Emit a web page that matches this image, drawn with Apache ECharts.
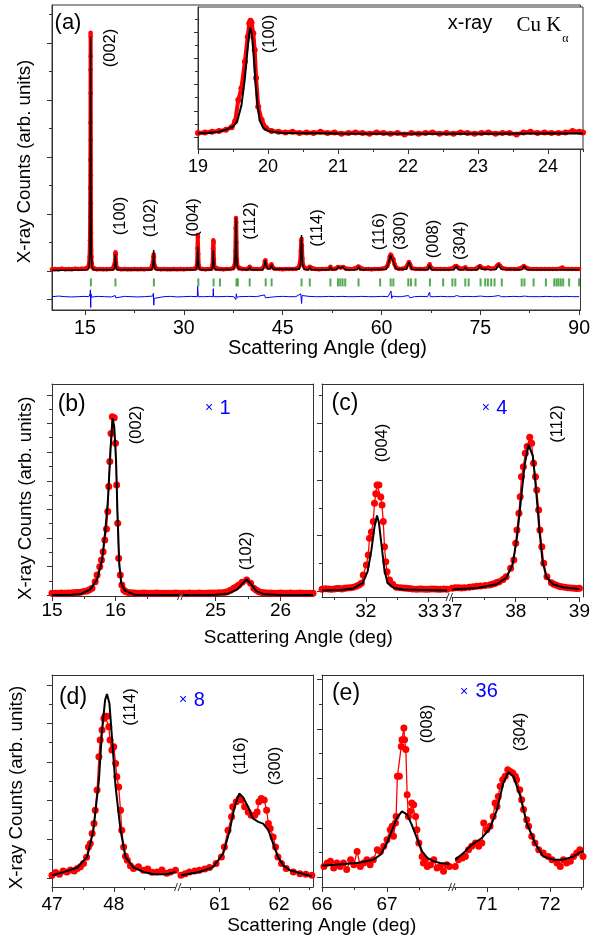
<!DOCTYPE html>
<html><head><meta charset="utf-8">
<script src="https://cdn.jsdelivr.net/npm/echarts@6/dist/echarts.min.js"></script>
<style>html,body{margin:0;padding:0;background:#fff}#c{width:593px;height:941px}</style>
</head><body><div id="c"></div>
<script>
// ---------------- DATA ----------------
// (a) main pattern: observed (red), calculated (black), difference (blue), Bragg positions (green)
const mainObs = [[10.0,0.03],[10.5,0.035],[11.0,0.03],[11.5,0.04],[12.0,0.03],[12.5,0.035],[13.0,0.03],[13.5,0.04],[14.0,0.035],[14.5,0.04],[15.0,0.04],[15.3,0.05],[15.5,0.07],[15.62,0.12],[15.7,0.25],[15.76,0.54],[15.79,0.95],[15.81,1.46],[15.83,1.95],[15.84,2.6],[15.85,3.53],[15.86,4.18],[15.87,4.12],[15.875,3.77],[15.88,3.12],[15.89,2.3],[15.9,1.68],[15.91,1.19],[15.93,0.67],[15.95,0.37],[15.98,0.25],[16.02,0.14],[16.1,0.07],[16.3,0.04],[16.8,0.03],[17.3,0.035],[17.8,0.03],[18.3,0.03],[18.8,0.035],[19.2,0.04],[19.45,0.06],[19.55,0.15],[19.6,0.28],[19.64,0.33],[19.68,0.3],[19.72,0.15],[19.8,0.06],[20.0,0.04],[20.5,0.03],[21.0,0.035],[21.5,0.03],[22.0,0.03],[22.5,0.035],[23.0,0.03],[23.5,0.035],[24.0,0.03],[24.5,0.035],[25.0,0.04],[25.25,0.07],[25.35,0.17],[25.4,0.26],[25.44,0.29],[25.48,0.24],[25.55,0.1],[25.7,0.05],[26.0,0.035],[26.5,0.03],[27.0,0.035],[27.5,0.03],[28.0,0.03],[28.5,0.035],[29.0,0.03],[29.5,0.035],[30.0,0.03],[30.5,0.035],[31.0,0.035],[31.5,0.04],[31.9,0.05],[32.02,0.12],[32.08,0.4],[32.12,0.63],[32.16,0.6],[32.2,0.3],[32.26,0.1],[32.4,0.05],[32.8,0.035],[33.3,0.03],[33.8,0.035],[34.2,0.04],[34.38,0.12],[34.44,0.4],[34.48,0.54],[34.52,0.5],[34.57,0.2],[34.65,0.07],[34.9,0.04],[35.5,0.035],[36.0,0.03],[36.5,0.035],[37.0,0.035],[37.5,0.05],[37.75,0.12],[37.83,0.35],[37.88,0.75],[37.92,0.93],[37.96,0.85],[38.0,0.5],[38.06,0.2],[38.15,0.08],[38.4,0.045],[38.9,0.035],[39.5,0.035],[39.9,0.05],[40.0,0.075],[40.1,0.05],[40.6,0.035],[41.2,0.035],[41.8,0.04],[42.15,0.08],[42.3,0.17],[42.4,0.19],[42.5,0.12],[42.7,0.06],[43.1,0.06],[43.3,0.12],[43.45,0.07],[43.8,0.04],[44.5,0.035],[45.0,0.03],[45.5,0.035],[46.0,0.035],[46.5,0.035],[47.0,0.04],[47.4,0.06],[47.65,0.15],[47.75,0.35],[47.82,0.54],[47.87,0.56],[47.93,0.45],[48.0,0.22],[48.1,0.1],[48.4,0.05],[48.8,0.04],[49.12,0.075],[49.4,0.04],[50.0,0.035],[50.5,0.03],[51.0,0.035],[51.5,0.035],[52.0,0.04],[52.25,0.075],[52.5,0.04],[53.0,0.04],[53.4,0.07],[53.8,0.06],[54.2,0.07],[54.6,0.045],[55.2,0.035],[55.8,0.04],[56.5,0.08],[56.8,0.045],[57.3,0.035],[58.0,0.035],[58.5,0.03],[59.0,0.035],[59.5,0.035],[60.0,0.04],[60.5,0.05],[60.9,0.09],[61.1,0.16],[61.25,0.25],[61.4,0.29],[61.55,0.26],[61.7,0.22],[61.85,0.2],[62.0,0.12],[62.2,0.06],[62.6,0.04],[63.2,0.04],[63.7,0.06],[64.0,0.12],[64.17,0.16],[64.35,0.12],[64.6,0.05],[65.2,0.035],[65.8,0.035],[66.5,0.035],[67.0,0.05],[67.2,0.09],[67.32,0.12],[67.45,0.07],[67.8,0.04],[68.4,0.035],[69.0,0.035],[69.6,0.035],[70.2,0.035],[70.8,0.05],[71.1,0.08],[71.36,0.09],[71.6,0.06],[72.0,0.04],[72.5,0.05],[72.72,0.065],[73.0,0.04],[73.6,0.035],[74.3,0.04],[74.7,0.07],[74.95,0.09],[75.2,0.06],[75.7,0.045],[76.2,0.06],[76.6,0.045],[77.2,0.05],[77.6,0.1],[77.8,0.12],[78.0,0.09],[78.4,0.05],[79.0,0.035],[79.6,0.035],[80.2,0.035],[80.8,0.04],[81.3,0.06],[81.6,0.09],[81.9,0.06],[82.4,0.04],[83.0,0.035],[83.6,0.035],[84.2,0.035],[84.8,0.035],[85.4,0.035],[86.0,0.035],[86.6,0.035],[87.2,0.045],[87.45,0.06],[87.7,0.04],[88.3,0.035],[88.9,0.035],[89.5,0.035],[90.0,0.035]];
const mainCalc = [[10,0.01],[15.4,0.02],[15.65,0.08],[15.76,0.4],[15.81,1.5],[15.84,3.0],[15.86,4.1],[15.88,3.2],[15.91,1.4],[15.95,0.35],[16.05,0.08],[16.3,0.02],[19.3,0.02],[19.5,0.06],[19.58,0.18],[19.63,0.3],[19.68,0.18],[19.76,0.06],[19.95,0.02],[25.1,0.02],[25.3,0.08],[25.38,0.22],[25.43,0.37],[25.48,0.2],[25.57,0.07],[25.8,0.02],[31.8,0.02],[32.0,0.08],[32.08,0.25],[32.13,0.43],[32.18,0.25],[32.26,0.07],[32.5,0.02],[34.2,0.02],[34.38,0.08],[34.44,0.22],[34.48,0.37],[34.53,0.2],[34.62,0.06],[34.9,0.02],[37.5,0.03],[37.75,0.1],[37.84,0.35],[37.9,0.8],[37.93,0.93],[37.97,0.7],[38.03,0.25],[38.12,0.08],[38.4,0.03],[39.8,0.02],[40.0,0.07],[40.2,0.02],[42.0,0.02],[42.25,0.1],[42.38,0.19],[42.5,0.1],[42.75,0.04],[43.1,0.04],[43.33,0.11],[43.55,0.03],[47.5,0.03],[47.7,0.12],[47.8,0.4],[47.87,0.63],[47.93,0.4],[48.02,0.12],[48.3,0.03],[48.9,0.02],[49.12,0.07],[49.35,0.02],[52.0,0.02],[52.25,0.07],[52.5,0.02],[53.2,0.03],[53.45,0.07],[53.8,0.05],[54.15,0.07],[54.5,0.02],[56.3,0.02],[56.52,0.08],[56.75,0.02],[60.7,0.03],[61.0,0.1],[61.2,0.2],[61.38,0.28],[61.55,0.22],[61.75,0.18],[61.95,0.1],[62.3,0.03],[63.8,0.03],[64.05,0.12],[64.17,0.16],[64.35,0.1],[64.6,0.03],[67.05,0.02],[67.3,0.11],[67.55,0.02],[71.0,0.02],[71.33,0.09],[71.7,0.02],[72.45,0.02],[72.72,0.06],[73.0,0.02],[74.6,0.02],[74.92,0.09],[75.25,0.03],[75.9,0.03],[76.15,0.05],[76.5,0.02],[77.4,0.03],[77.78,0.12],[78.15,0.03],[81.3,0.02],[81.67,0.09],[82.05,0.02],[87.2,0.02],[87.47,0.05],[87.75,0.02],[90.0,0.02]];
const mainDiff = [[10,-0.45],[11,-0.44],[12,-0.45],[13,-0.455],[14,-0.45],[15,-0.445],[15.6,-0.45],[15.78,-0.4],[15.83,-0.33],[15.86,-0.6],[15.88,-0.64],[15.92,-0.4],[16.0,-0.46],[16.4,-0.45],[17,-0.445],[18,-0.45],[19,-0.455],[19.6,-0.43],[19.68,-0.47],[19.8,-0.45],[21,-0.445],[22,-0.45],[23,-0.455],[24,-0.45],[25.3,-0.44],[25.38,-0.39],[25.45,-0.6],[25.5,-0.48],[25.7,-0.45],[27,-0.45],[28,-0.445],[29,-0.455],[30,-0.45],[31,-0.445],[32.05,-0.45],[32.1,-0.27],[32.15,-0.3],[32.2,-0.45],[33,-0.45],[34,-0.445],[34.43,-0.45],[34.48,-0.31],[34.53,-0.45],[35.5,-0.45],[36.5,-0.445],[37.6,-0.45],[37.85,-0.42],[37.9,-0.5],[37.97,-0.4],[38.05,-0.46],[38.3,-0.43],[38.5,-0.45],[40,-0.445],[41,-0.45],[42.25,-0.42],[42.4,-0.47],[42.6,-0.45],[44,-0.45],[45,-0.445],[46,-0.45],[47,-0.45],[47.75,-0.4],[47.83,-0.38],[47.88,-0.57],[47.95,-0.43],[48.2,-0.45],[49,-0.445],[50,-0.45],[51,-0.45],[52,-0.445],[53,-0.45],[54,-0.445],[55,-0.45],[56,-0.45],[57,-0.445],[58,-0.45],[59,-0.45],[60,-0.445],[61,-0.45],[61.3,-0.44],[61.45,-0.35],[61.55,-0.48],[61.7,-0.44],[62.2,-0.45],[63,-0.45],[64.1,-0.43],[64.3,-0.47],[65,-0.45],[66,-0.445],[67,-0.45],[67.3,-0.37],[67.4,-0.45],[68,-0.45],[69,-0.445],[70,-0.45],[71,-0.45],[71.4,-0.43],[72,-0.45],[73,-0.445],[74,-0.45],[75,-0.44],[76,-0.45],[77,-0.445],[77.8,-0.43],[78.2,-0.45],[79,-0.45],[80,-0.445],[81,-0.45],[81.7,-0.44],[82.5,-0.45],[84,-0.45],[85,-0.445],[86,-0.45],[87,-0.45],[88,-0.445],[89,-0.45],[90,-0.45]];
const braggPos = [15.90,19.63,25.46,32.21,34.52,35.49,38.0,38.2,40.0,42.43,43.33,47.87,49.12,52.25,53.40,53.75,54.1,54.5,56.52,59.8,61.40,61.8,64.07,64.47,65.17,67.35,69.36,70.76,71.21,72.72,73.23,75.04,75.74,76.15,76.65,77.16,78.26,81.28,81.69,83.09,84.95,86.22,86.57,86.87,87.22,87.58,88.48,89.99];
const braggRow = -0.2;
const mainXTicks = [15,30,45,60,75,90];

// (a) inset: (100) reflection
const insetObs = [[19.0,0.3],[19.1,0.35],[19.2,0.4],[19.3,0.45],[19.4,0.55],[19.48,0.75],[19.53,1.2],[19.576,2.82],[19.62,3.72],[19.67,5.75],[19.71,7.66],[19.733,8.68],[19.75,8.88],[19.765,8.72],[19.79,7.92],[19.81,6.64],[19.83,4.5],[19.86,2.31],[19.91,1.3],[19.97,0.69],[20.05,0.45],[20.15,0.4],[20.25,0.35],[20.35,0.4],[20.45,0.3],[20.55,0.35],[20.65,0.3],[20.75,0.4],[20.85,0.3],[20.95,0.35],[21.05,0.25],[21.15,0.3],[21.25,0.35],[21.35,0.3],[21.45,0.25],[21.55,0.35],[21.65,0.3],[21.75,0.25],[21.85,0.3],[21.95,0.2],[22.05,0.3],[22.15,0.25],[22.25,0.3],[22.35,0.35],[22.45,0.25],[22.55,0.3],[22.65,0.25],[22.75,0.35],[22.85,0.3],[22.95,0.25],[23.05,0.3],[23.15,0.35],[23.25,0.25],[23.35,0.3],[23.45,0.3],[23.55,0.2],[23.65,0.35],[23.75,0.4],[23.85,0.3],[23.95,0.35],[24.05,0.3],[24.15,0.3],[24.25,0.35],[24.35,0.45],[24.45,0.4],[24.5,0.35]];
const insetCalc = [[19.0,0.28],[19.15,0.3],[19.3,0.4],[19.42,0.6],[19.5,0.8],[19.56,1.2],[19.62,2.4],[19.67,4.5],[19.71,6.8],[19.735,8.0],[19.745,8.34],[19.765,8.0],[19.79,6.6],[19.82,4.3],[19.85,2.4],[19.88,1.3],[19.93,0.7],[20.0,0.45],[20.2,0.3],[21,0.27],[22,0.25],[23,0.25],[24,0.27],[24.5,0.27]];

// (b) x1 : (002) and (102)
const bObsL = [[15.0,1.3],[15.05,1.3],[15.1,1.3],[15.15,1.4],[15.2,1.3],[15.25,1.4],[15.3,1.4],[15.34,1.5],[15.38,1.6],[15.42,1.7],[15.45,1.8],[15.5,2.1],[15.55,2.4],[15.59,3.0],[15.63,3.6],[15.68,6.7],[15.71,9.9],[15.752,13.8],[15.779,17.0],[15.805,20.9],[15.831,26.4],[15.858,31.6],[15.878,39.8],[15.894,51.6],[15.91,63.4],[15.93,76.7],[15.95,84.6],[15.98,84.1],[16.0,72.0],[16.018,52.4],[16.035,34.3],[16.05,17.8],[16.075,9.9],[16.1,5.2],[16.13,2.8],[16.16,2.1],[16.2,1.7],[16.25,1.5],[16.3,1.4],[16.35,1.3],[16.4,1.3],[16.45,1.4],[16.5,1.3],[16.55,1.3],[16.6,1.3],[16.65,1.4],[16.7,1.3],[16.75,1.3],[16.8,1.3],[16.85,1.3],[16.9,1.3],[16.95,1.4],[17.0,1.3]];
const bCalcL = [[15.0,0.5],[15.3,0.6],[15.45,0.9],[15.6,3.0],[15.71,7.8],[15.79,17.0],[15.84,31.0],[15.88,45.0],[15.92,68.0],[15.955,83.8],[15.98,80.0],[16.01,63.0],[16.03,40.0],[16.06,15.0],[16.09,6.0],[16.15,2.5],[16.3,0.6],[17.0,0.5]];
const bObsR = [[24.5,1.3],[24.55,1.3],[24.6,1.4],[24.65,1.3],[24.7,1.3],[24.75,1.4],[24.8,1.3],[24.85,1.3],[24.9,1.4],[24.95,1.4],[25.0,1.4],[25.05,1.5],[25.1,1.5],[25.14,1.7],[25.18,2.0],[25.23,2.7],[25.28,3.6],[25.32,4.4],[25.36,5.2],[25.41,6.5],[25.48,7.5],[25.54,6.0],[25.59,3.6],[25.63,2.7],[25.67,2.0],[25.71,1.7],[25.75,1.5],[25.8,1.4],[25.85,1.4],[25.9,1.3],[25.95,1.3],[26.0,1.4],[26.05,1.3],[26.1,1.3],[26.15,1.4],[26.2,1.3],[26.25,1.3],[26.3,1.4],[26.35,1.3],[26.4,1.3],[26.45,1.3],[26.5,1.3]];
const bCalcR = [[24.5,0.5],[25.0,0.6],[25.2,1.2],[25.33,3.0],[25.42,6.0],[25.48,7.8],[25.55,5.5],[25.63,2.3],[25.75,0.8],[26.0,0.5],[26.5,0.5]];

// (c) x4 : (004) and (112)
const cObsL = [[31.3,3.6],[31.35,3.9],[31.4,3.8],[31.45,3.6],[31.5,3.7],[31.54,4.0],[31.58,4.0],[31.62,3.8],[31.66,4.1],[31.7,4.2],[31.75,4.4],[31.8,4.6],[31.85,5.0],[31.89,5.6],[31.93,6.4],[31.96,10.3],[32.01,15.0],[32.04,19.7],[32.06,27.6],[32.09,30.5],[32.12,35.4],[32.14,44.0],[32.16,48.5],[32.18,52.6],[32.21,52.6],[32.24,47.0],[32.26,43.2],[32.28,35.4],[32.3,23.6],[32.32,16.6],[32.34,11.9],[32.38,8.0],[32.43,6.0],[32.49,4.6],[32.55,4.4],[32.6,4.2],[32.65,4.1],[32.7,4.0],[32.75,3.8],[32.81,3.6],[32.86,3.7],[32.9,3.7],[32.95,3.6],[33.0,3.6],[33.05,3.7],[33.1,3.7],[33.15,3.6],[33.2,3.6],[33.25,3.7],[33.3,3.6]];
const cCalcL = [[31.3,3.0],[31.6,3.3],[31.8,4.0],[31.95,6.5],[32.03,12.0],[32.09,22.0],[32.14,33.0],[32.18,38.3],[32.21,35.0],[32.25,25.0],[32.3,12.5],[32.35,6.5],[32.45,4.2],[32.6,3.5],[33.3,3.1]];
const cObsR = [[37.0,4.1],[37.05,4.3],[37.1,4.3],[37.15,4.2],[37.2,4.4],[37.27,4.6],[37.33,4.8],[37.39,5.0],[37.45,5.2],[37.52,5.4],[37.59,5.6],[37.63,6.0],[37.67,6.3],[37.7,6.8],[37.74,7.2],[37.8,8.2],[37.85,9.5],[37.92,13.5],[37.97,17.4],[38.0,25.2],[38.02,31.5],[38.05,39.3],[38.07,47.1],[38.09,56.5],[38.12,61.2],[38.15,67.5],[38.18,70.6],[38.22,75.0],[38.25,72.2],[38.28,62.8],[38.31,56.5],[38.33,50.2],[38.36,40.8],[38.38,31.5],[38.41,23.6],[38.44,15.8],[38.49,9.5],[38.56,6.7],[38.6,6.0],[38.64,5.5],[38.68,5.1],[38.72,4.8],[38.77,4.6],[38.82,4.4],[38.87,4.2],[38.92,4.1],[38.96,4.0],[39.0,4.1]];
const cCalcR = [[37.0,3.5],[37.4,4.2],[37.7,6.0],[37.85,9.0],[37.95,15.0],[38.02,28.0],[38.08,45.0],[38.14,62.0],[38.2,71.5],[38.23,72.0],[38.27,66.0],[38.32,50.0],[38.37,32.0],[38.42,17.0],[38.48,9.5],[38.58,6.0],[38.75,4.5],[39.0,3.8]];

// (d) x8 : (114), (116)/(300)
const dObsL = [[47.0,5.5],[47.06,6.8],[47.12,6.0],[47.18,7.5],[47.24,7.1],[47.3,8.0],[47.36,7.5],[47.41,8.7],[47.46,9.5],[47.51,11.1],[47.56,14.0],[47.59,18.9],[47.62,20.5],[47.65,25.2],[47.68,30.0],[47.7,36.2],[47.73,45.7],[47.76,61.4],[47.78,69.3],[47.81,74.0],[47.84,79.5],[47.86,80.6],[47.89,80.6],[47.92,75.6],[47.94,69.3],[47.97,64.6],[48.0,66.1],[48.03,58.3],[48.05,52.0],[48.08,47.2],[48.11,36.2],[48.13,26.8],[48.16,18.9],[48.19,14.5],[48.22,12.6],[48.27,10.0],[48.32,8.7],[48.4,9.5],[48.48,7.9],[48.55,8.5],[48.62,7.0],[48.7,7.1],[48.78,8.0],[48.86,6.5],[48.92,7.1],[49.0,7.9]];
const dCalcL = [[47.0,5.5],[47.24,7.5],[47.41,9.2],[47.57,14.2],[47.67,26.8],[47.76,50.4],[47.81,74.0],[47.86,88.2],[47.89,91.0],[47.93,86.6],[47.97,71.0],[48.03,47.2],[48.11,26.8],[48.19,14.2],[48.32,9.2],[48.48,7.1],[48.65,6.0],[48.86,6.0],[49.0,7.1]];
const dObsR = [[60.35,5.5],[60.42,6.3],[60.49,7.1],[60.58,7.5],[60.66,7.9],[60.75,8.5],[60.83,9.2],[60.94,11.1],[61.03,14.2],[61.08,18.9],[61.14,26.8],[61.2,33.1],[61.22,37.8],[61.28,40.2],[61.33,41.8],[61.37,41.0],[61.42,37.8],[61.48,35.4],[61.53,33.9],[61.59,33.9],[61.63,35.4],[61.66,40.2],[61.7,41.8],[61.75,41.0],[61.79,36.2],[61.82,29.9],[61.85,27.6],[61.9,23.6],[61.94,18.9],[61.98,14.2],[62.04,11.1],[62.12,8.7],[62.24,7.1],[62.35,6.3],[62.45,6.0],[62.55,5.5]];
const dCalcR = [[60.35,5.5],[60.66,7.1],[60.89,9.4],[61.06,15.8],[61.17,26.8],[61.25,37.8],[61.33,44.1],[61.39,42.5],[61.48,37.8],[61.56,32.3],[61.65,30.7],[61.73,29.9],[61.82,26.8],[61.9,20.5],[61.98,14.2],[62.07,10.2],[62.18,7.9],[62.35,6.6],[62.55,5.0]];

// (e) x36 : (008) and (304)
const eObsL = [[66.03,9.7],[66.08,11.3],[66.13,12.1],[66.18,9.0],[66.23,11.3],[66.28,9.7],[66.33,11.3],[66.38,8.2],[66.44,12.9],[66.49,10.5],[66.54,16.8],[66.59,9.7],[66.64,11.3],[66.69,12.9],[66.74,10.5],[66.79,12.9],[66.85,17.6],[66.9,16.8],[66.95,19.2],[67.0,22.3],[67.05,27.0],[67.08,28.6],[67.1,23.9],[67.13,30.2],[67.14,33.3],[67.16,52.2],[67.19,52.2],[67.22,66.3],[67.23,69.5],[67.26,75.0],[67.27,69.5],[67.29,64.8],[67.31,43.5],[67.33,33.3],[67.36,35.7],[67.38,39.6],[67.41,38.8],[67.44,33.3],[67.46,27.0],[67.49,20.8],[67.54,14.4],[67.56,11.3],[67.59,12.9],[67.62,9.7],[67.67,10.5],[67.72,12.9],[67.77,9.0],[67.82,9.7],[67.87,7.4],[67.92,10.5],[67.96,9.7]];
const eCalcL = [[66.0,10.0],[66.54,11.3],[66.79,12.9],[66.9,15.2],[67.0,20.8],[67.08,27.0],[67.15,32.5],[67.23,35.7],[67.26,36.0],[67.31,34.1],[67.38,29.4],[67.46,23.1],[67.54,16.8],[67.62,13.7],[67.72,12.1],[67.82,11.3],[67.96,10.8]];
const eObsR = [[70.5,9.7],[70.55,12.9],[70.61,13.7],[70.66,14.4],[70.71,17.6],[70.76,19.2],[70.82,20.8],[70.87,19.2],[70.92,20.8],[70.95,30.2],[71.0,27.0],[71.05,28.6],[71.1,33.3],[71.13,39.6],[71.16,38.0],[71.18,42.7],[71.21,47.5],[71.25,50.6],[71.29,52.2],[71.33,55.3],[71.37,54.5],[71.41,53.8],[71.45,52.2],[71.47,50.6],[71.52,45.9],[71.55,41.2],[71.58,36.5],[71.63,31.7],[71.66,28.6],[71.71,23.9],[71.76,20.8],[71.82,17.6],[71.89,16.0],[71.97,14.4],[72.03,12.9],[72.11,11.3],[72.16,9.7],[72.21,12.9],[72.26,11.3],[72.32,12.1],[72.37,14.4],[72.42,16.0],[72.47,17.6],[72.52,14.4]];
const eCalcR = [[70.5,12.9],[70.63,16.0],[70.76,19.9],[70.92,23.1],[71.05,27.8],[71.16,36.5],[71.26,49.1],[71.34,54.1],[71.42,52.2],[71.53,42.7],[71.63,30.2],[71.76,20.8],[71.89,14.4],[72.05,12.9],[72.21,12.9],[72.37,14.4],[72.47,16.3],[72.52,16.8]];

// ---------------- CHART ----------------
const AX = '#333';
const FONT = "'Liberation Sans', Arial, Helvetica, sans-serif";
const SERIF = "'Liberation Serif', 'Times New Roman', serif";
const RED = '#ff0000', BLACK = '#000000', BLUE = '#0000ff', GREEN = '#2a962a';
const grid = [], xAxis = [], yAxis = [], series = [], graphic = [];

function addGrid(left, top, width, height, extra) {
  grid.push(Object.assign({left, top, width, height}, extra || {}));
  return grid.length - 1;
}
function axisPair(list, dim, gi, min, max, majors, minors, o) {
  o = o || {};
  const pos = o.position || (dim === 'x' ? 'bottom' : 'left');
  const base = {type: 'value', gridIndex: gi, min, max, position: pos, splitLine: {show: false}};
  list.push(Object.assign({}, base, {
    axisLine: {show: o.line !== false, onZero: false, lineStyle: {color: AX, width: 1}},
    axisTick: majors.length ? {show: true, customValues: majors, length: o.tickLen || 5, lineStyle: {color: AX, width: 1}} : {show: false},
    axisLabel: o.labels ? {show: true, customValues: majors, fontSize: o.fs || 19, margin: o.margin || 8, color: '#000', fontFamily: FONT, showMinLabel: true, showMaxLabel: true} : {show: false}
  }));
  const idx = list.length - 1;
  if (minors && minors.length) list.push(Object.assign({}, base, {
    axisLine: {show: false, onZero: false},
    axisTick: {show: true, customValues: minors, length: o.minorLen || 3, lineStyle: {color: AX, width: 1}},
    axisLabel: {show: false}
  }));
  return idx;
}
function frame(left, top, width, height) {
  const g = addGrid(left, top, width, height);
  axisPair(xAxis, 'x', g, 0, 1, [], null, {position: 'top'});
  axisPair(yAxis, 'y', g, 0, 1, [], null, {position: 'right'});
}
function obs(xi, yi, data, size, lw) {
  series.push({type: 'line', xAxisIndex: xi, yAxisIndex: yi, data, symbol: 'circle', symbolSize: size, showSymbol: true,
    lineStyle: {color: RED, width: lw}, itemStyle: {color: RED, borderWidth: 0}, silent: true, z: 2});
}
function calc(xi, yi, data, lw, color) {
  series.push({type: 'line', xAxisIndex: xi, yAxisIndex: yi, data, symbol: 'none', showSymbol: false,
    lineStyle: {color: color || BLACK, width: lw}, silent: true, z: 3});
}
function txt(x, y, text, size, o) {
  o = o || {};
  graphic.push({type: 'text', x, y, rotation: o.rot || 0, z: 100, silent: true,
    style: {text, fontSize: size, fontFamily: o.family || FONT, fill: o.color || '#000',
      align: 'center', verticalAlign: 'middle', textAlign: 'center', textVerticalAlign: 'middle'}});
}
function brk(x, yb) {
  [0, 3.5].forEach(d => graphic.push({type: 'line', z: 100, silent: true,
    shape: {x1: x + d, y1: yb + 4, x2: x + d + 3, y2: yb - 4}, style: {stroke: AX, lineWidth: 1}}));
}
const ROT = Math.PI / 2;

// ---- (a) main
const gA = addGrid(52, 5, 531, 305, {show: true, borderColor: AX, borderWidth: 1});
const xA = axisPair(xAxis, 'x', gA, 10, 90.2, mainXTicks, [22.5, 37.5, 52.5, 67.5, 82.5], {labels: true, fs: 19.5, margin: 9});
const yA = axisPair(yAxis, 'y', gA, -0.684, 4.667, [-0.5, 0, 1, 2, 3, 4], [0.5, 1.5, 2.5, 3.5, 4.5], {});
obs(xA, yA, mainObs, 4.5, 4);
calc(xA, yA, mainCalc, 1.5);
calc(xA, yA, mainDiff, 1, BLUE);
series.push({type: 'scatter', xAxisIndex: xA, yAxisIndex: yA, symbol: 'rect', symbolSize: [2, 8],
  itemStyle: {color: GREEN}, silent: true, z: 2, data: braggPos.map(p => [p, braggRow])});

// ---- (a) inset
const gI = addGrid(198, 7, 385, 142, {show: true, borderColor: AX, borderWidth: 1, backgroundColor: '#fff'});
const xI = axisPair(xAxis, 'x', gI, 19, 24.5, [19, 20, 21, 22, 23, 24], [19.5, 20.5, 21.5, 22.5, 23.5, 24.5], {labels: true, fs: 18, margin: 9});
const yI = axisPair(yAxis, 'y', gI, -0.916, 9.924, [0, 2, 4, 6, 8], [1, 3, 5, 7, 9], {tickLen: 4, minorLen: 3});
obs(xI, yI, insetObs, 6, 4);
calc(xI, yI, insetCalc, 2);

// ---- sub panels
function panel(fr, segL, segR, yMaj, yMin, labelMargin) {
  frame(fr[0], fr[1], fr[2], fr[3]);
  const gL = addGrid(segL.left, fr[1], segL.width, fr[3]);
  const xL = axisPair(xAxis, 'x', gL, segL.min, segL.max, segL.major, segL.minor, {labels: true, fs: 19, margin: labelMargin});
  const yL = axisPair(yAxis, 'y', gL, 0, 100, yMaj, yMin, {tickLen: 5, minorLen: 3});
  obs(xL, yL, segL.obs, 7, 1.3);
  calc(xL, yL, segL.calc, 2);
  const gR = addGrid(segR.left, fr[1], segR.width, fr[3]);
  const xR = axisPair(xAxis, 'x', gR, segR.min, segR.max, segR.major, segR.minor, {labels: true, fs: 19, margin: labelMargin});
  const yR = axisPair(yAxis, 'y', gR, 0, 100, [], null, {line: false});
  obs(xR, yR, segR.obs, 7, 1.3);
  calc(xR, yR, segR.calc, 2);
}
panel([52, 384, 261, 212],
  {left: 52, width: 127, min: 15, max: 17, major: [15, 16], minor: [15.5, 16.5], obs: bObsL, calc: bCalcL},
  {left: 183, width: 130, min: 24.5, max: 26.5, major: [25, 26], minor: [25.5], obs: bObsR, calc: bCalcR},
  [0.5, 13.8, 27.2, 40.9, 54.2, 67.8, 81.5, 94.8], [7.1, 20.5, 34.1, 47.6, 61.0, 74.7, 88.2], 5.5);
panel([322, 384, 261, 213],
  {left: 322, width: 125, min: 31.3, max: 33.3, major: [32, 33], minor: [31.5, 32.5], obs: cObsL, calc: cCalcL},
  {left: 452, width: 131, min: 37, max: 39, major: [37, 38, 39], minor: [37.5, 38.5], obs: cObsR, calc: cCalcR},
  [2.5, 28.8, 54.9, 81.5], [15.8, 41.9, 68.2, 94.5], 5.5);
panel([52, 675, 261, 212],
  {left: 52, width: 123.5, min: 47, max: 49, major: [47, 48], minor: [47.5, 48.5], obs: dObsL, calc: dCalcL},
  {left: 181, width: 132, min: 60.35, max: 62.57, major: [61, 62], minor: [60.5, 61.5, 62.5], obs: dObsR, calc: dCalcR},
  [4.0, 22.4, 41.0, 59.0, 77.2, 95.3], [13.2, 31.7, 50.0, 68.1, 86.2], 8.5);
panel([322, 675, 261, 212],
  {left: 322, width: 130, min: 66, max: 68, major: [66, 67], minor: [66.5, 67.5], obs: eObsL, calc: eCalcL},
  {left: 454, width: 129, min: 70.48, max: 72.52, major: [71, 72], minor: [70.5, 71.5, 72.5], obs: eObsR, calc: eCalcR},
  [4.6, 27.8, 51.4, 74.5, 97.8], [16.3, 39.6, 62.9, 86.0], 8.5);

// break marks
brk(177.5, 596); brk(446, 597); brk(174.5, 887); brk(448.5, 887);

// ---- texts
const PL = 16.5;
txt(68, 23, '(a)', 22);
txt(470, 23, 'x-ray', 20);
txt(539, 25, 'Cu K', 21, {family: SERIF});
txt(565.5, 38.5, 'α', 12, {family: SERIF});
[[110, 48, '(002)'], [120, 216, '(100)'], [150.5, 218, '(102)'], [193, 217.5, '(004)'], [250, 221, '(112)'],
 [317, 228, '(114)'], [379, 231.7, '(116)'], [400, 230.8, '(300)'], [433, 239, '(008)'], [460, 240.8, '(304)'],
 [269, 34, '(100)'],
 [136.7, 425, '(002)'], [246.7, 551, '(102)'], [382, 443, '(004)'], [557, 424, '(112)'],
 [130, 707, '(114)'], [240, 756, '(116)'], [275, 766, '(300)'], [427, 724, '(008)'], [520, 732, '(304)']
].forEach(p => txt(p[0], p[1], p[2], PL, {rot: ROT}));
txt(327.5, 348.5, 'Scattering Angle (deg)', 20);
txt(298.3, 638, 'Scattering Angle (deg)', 19);
txt(321.7, 926, 'Scattering Angle (deg)', 19);
txt(25, 161.5, 'X-ray Counts (arb. units)', 18.7, {rot: ROT});
txt(25.8, 498.3, 'X-ray Counts (arb. units)', 18.7, {rot: ROT});
txt(16.7, 787.5, 'X-ray Counts (arb. units)', 18.7, {rot: ROT});
txt(71.7, 405, '(b)', 23); txt(345, 403.5, '(c)', 23);
txt(73, 697.5, '(d)', 23); txt(346, 693.5, '(e)', 23);
txt(209, 408.3, '×', 14, {color: BLUE}); txt(225, 408.3, '1', 20, {color: BLUE});
txt(485.8, 408.3, '×', 14, {color: BLUE}); txt(501.7, 408.3, '4', 20, {color: BLUE});
txt(183.2, 700, '×', 14, {color: BLUE}); txt(199.2, 700, '8', 20, {color: BLUE});
txt(464.2, 691.7, '×', 14, {color: BLUE}); txt(486.7, 691.7, '36', 20, {color: BLUE});

const chart = echarts.init(document.getElementById('c'), null, {renderer: 'canvas'});
chart.setOption({animation: false, backgroundColor: '#fff', grid, xAxis, yAxis, series, graphic: {elements: graphic}});
</script></body></html>
